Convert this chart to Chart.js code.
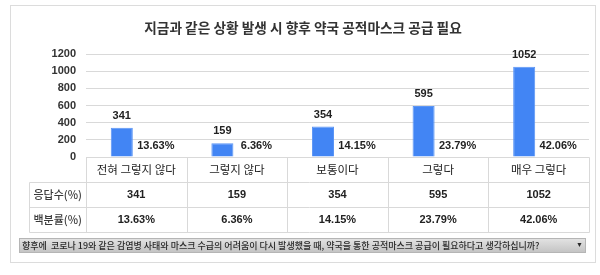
<!DOCTYPE html>
<html><head><meta charset="utf-8">
<script src="https://cdn.jsdelivr.net/npm/chart.js@4/dist/chart.umd.min.js"></script>
<style>html,body{margin:0;padding:0;background:#fff;}canvas{display:block;}</style>
</head><body>
<canvas id="c" width="600" height="275"></canvas>
<script>
const chartTitle = '지금과 같은 상황 발생 시 향후 약국 공적마스크 공급 필요';
const categories = ['전혀 그렇지 않다', '그렇지 않다', '보통이다', '그렇다', '매우 그렇다'];
const counts = [341, 159, 354, 595, 1052];
const percents = [13.63, 6.36, 14.15, 23.79, 42.06];
const rowHeaders = ['응답수(%)', '백분률(%)'];
const yMin = 0, yMax = 1200, yStep = 200;
const question = '향후에  코로나 19와 같은 감염병 사태와 마스크 수급의 어려움이 다시 발생했을 때, 약국을 통한 공적마스크 공급이 필요하다고 생각하십니까?';

const KR = '"Noto Sans CJK KR", "Noto Sans", sans-serif';
const NUM = '"Liberation Sans", Arial, sans-serif';
const LINE = '#d9d9d9';

const decor = {
  id: 'decor',
  beforeDraw(chart) {
    const ctx = chart.ctx;
    ctx.save();
    ctx.fillStyle = '#fff';
    ctx.fillRect(0, 0, chart.width, chart.height);
    ctx.strokeStyle = '#dcdcdc';
    ctx.lineWidth = 1;
    ctx.strokeRect(10.5, 5.5, 585, 257);
    ctx.fillStyle = '#333';
    ctx.font = 'bold 13.7px ' + KR;
    ctx.textAlign = 'center';
    ctx.textBaseline = 'middle';
    ctx.fillText(chartTitle, 303, 28);
    ctx.restore();
  },
  afterDatasetsDraw(chart) {
    const ctx = chart.ctx;
    const ca = chart.chartArea;
    ctx.save();
    ctx.textAlign = 'center';
    ctx.textBaseline = 'middle';
    ctx.font = 'bold 11px ' + NUM;
    ctx.fillStyle = '#222';
    chart.getDatasetMeta(0).data.forEach((el, i) => {
      ctx.fillText(String(counts[i]), el.x, el.y - 12);
    });
    chart.getDatasetMeta(1).data.forEach((el, i) => {
      ctx.fillText(percents[i].toFixed(2) + '%', el.x + 5, ca.bottom - 11);
    });
    ctx.restore();
  },
  afterDraw(chart) {
    const ctx = chart.ctx;
    const ca = chart.chartArea;
    const xs = chart.scales.x;
    const n = categories.length;
    const cw = (ca.right - ca.left) / n;
    const hdrLeft = 29.5;
    const top = Math.round(ca.bottom) + 0.5;
    const r1 = top + 25, r2 = r1 + 25, r3 = r2 + 25;
    ctx.save();
    ctx.strokeStyle = LINE;
    ctx.lineWidth = 1;
    ctx.beginPath();
    ctx.moveTo(Math.round(ca.left) + 0.5, top); ctx.lineTo(Math.round(ca.right) + 0.5, top);
    [r1, r2, r3].forEach(y => { ctx.moveTo(hdrLeft, y); ctx.lineTo(Math.round(ca.right) + 0.5, y); });
    for (let i = 0; i <= n; i++) {
      const x = Math.round(ca.left + i * cw) + 0.5;
      ctx.moveTo(x, top); ctx.lineTo(x, r3);
    }
    ctx.moveTo(hdrLeft, r1); ctx.lineTo(hdrLeft, r3);
    ctx.stroke();

    ctx.textAlign = 'center';
    ctx.textBaseline = 'middle';
    ctx.fillStyle = '#222';
    ctx.font = '11.5px ' + KR;
    categories.forEach((c, i) => ctx.fillText(c, xs.getPixelForValue(i), top + 12.5));
    ctx.font = 'bold 11px ' + NUM;
    counts.forEach((v, i) => ctx.fillText(String(v), xs.getPixelForValue(i), r1 + 12.5));
    percents.forEach((v, i) => ctx.fillText(v.toFixed(2) + '%', xs.getPixelForValue(i), r2 + 12.5));
    ctx.fillStyle = '#3a3a3a';
    ctx.font = '500 11px ' + KR;
    const hc = (hdrLeft + ca.left) / 2;
    ctx.fillText(rowHeaders[0], hc, r1 + 12.5);
    ctx.fillText(rowHeaders[1], hc, r2 + 12.5);

    const bx = 19, by = 238, bw = 567, bh = 15;
    const g = ctx.createLinearGradient(0, by, 0, by + bh);
    g.addColorStop(0, '#e4e4e4');
    g.addColorStop(1, '#c2c2c2');
    ctx.fillStyle = g;
    ctx.fillRect(bx, by, bw, bh);
    ctx.strokeStyle = '#b5b5b5';
    ctx.strokeRect(bx + 0.5, by + 0.5, bw - 1, bh - 1);
    ctx.fillStyle = '#2a2a2a';
    ctx.textAlign = 'left';
    ctx.font = '500 9px ' + KR;
    ctx.fillText(question, bx + 3, by + bh / 2 + 0.5, 548);
    ctx.font = '7px ' + NUM;
    ctx.fillText('▼', bx + bw - 10, by + bh / 2);
    ctx.restore();
  }
};

new Chart(document.getElementById('c'), {
  type: 'bar',
  data: {
    labels: categories,
    datasets: [
      { label: '응답수', data: counts, backgroundColor: '#4285F4', borderColor: '#5b95f5', borderWidth: 1,
        categoryPercentage: 0.577, barPercentage: 0.76 },
      { label: '백분률', data: percents, backgroundColor: 'rgba(0,0,0,0)', borderWidth: 0,
        categoryPercentage: 0.577, barPercentage: 0.76 }
    ]
  },
  options: {
    responsive: false,
    animation: false,
    devicePixelRatio: 1,
    layout: { padding: { top: 54, right: 11, bottom: 118, left: 0 } },
    plugins: { legend: { display: false }, title: { display: false }, tooltip: { enabled: false } },
    scales: {
      x: { display: false },
      y: {
        min: yMin, max: yMax,
        ticks: { stepSize: yStep, padding: 10, color: '#333', font: { family: NUM, size: 11, weight: 'bold' },
                 callback: v => String(v) },
        grid: { color: LINE, drawTicks: false },
        border: { display: false },
        afterFit(s) { s.width = 86; }
      }
    }
  },
  plugins: [decor]
});
</script>
</body></html>
